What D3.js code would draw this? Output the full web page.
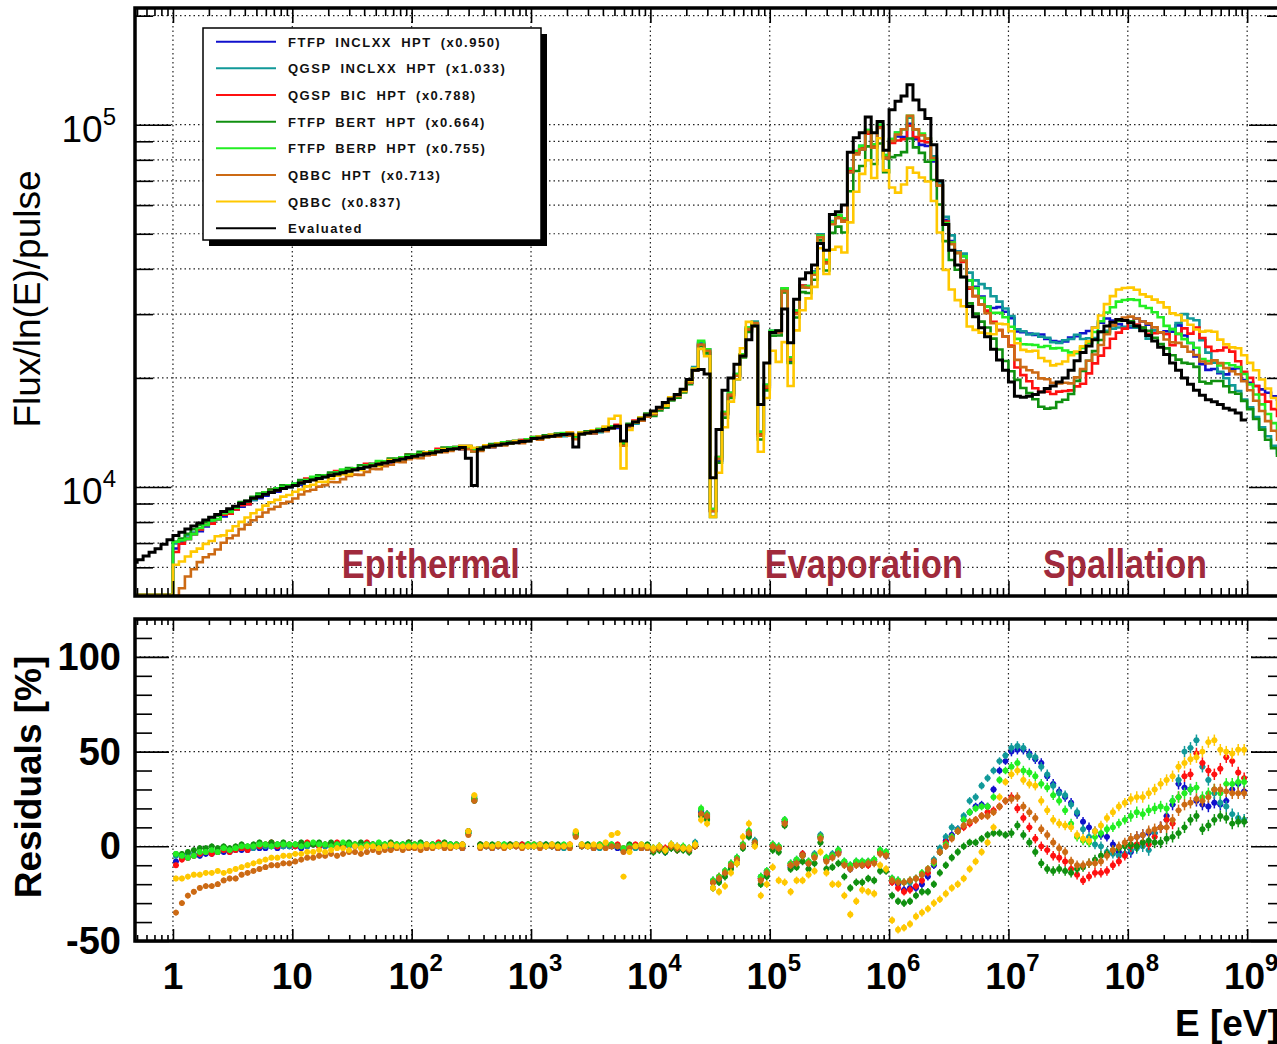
<!DOCTYPE html>
<html>
<head>
<meta charset="utf-8">
<script src="https://cdn.jsdelivr.net/npm/d3@7"></script>
<style>
  body { margin: 0; background: #fff; }
  svg text { font-family: "Liberation Sans", Arial, Helvetica, sans-serif; }
</style>
</head>
<body>
<div id="chart"></div>
<script>
// histogram binning in log10(E / eV)
const binWidth = 0.05;
const evalFirstEdge = -0.35;
const simFirstEdge = 0;
const tailFirstEdge = 9;

const modelNames = ["FTFP INCLXX HPT", "QGSP INCLXX HPT", "QGSP BIC HPT", "FTFP BERT HPT", "FTFP BERP HPT", "QBBC HPT", "QBBC"];
const modelScales = [0.950, 1.033, 0.788, 0.664, 0.755, 0.713, 0.837];
const modelColors = ["#1010cc", "#119999", "#ff1010", "#109010", "#22ee22", "#cc6a14", "#ffc800"];

const regionNames = ["Epithermal", "Evaporation", "Spallation"];
const regionStartE = [26, 9.1e4, 1.95e7];

// evaluated flux per bin, from 10^-0.35 eV to 1e9 eV
const evaluated = [
  6200, 6300, 6450, 6600, 6750, 6950, 7150,
  7350, 7500, 7650, 7800, 7950, 8100, 8250, 8400, 8550, 8700, 8850, 9000, 9150, 9300, 9400, 9550, 9650, 9800, 9900, 10000,
  10100, 10250, 10350, 10450, 10550, 10650, 10750, 10850, 10950, 11050, 11150, 11250, 11350, 11450, 11550, 11650, 11750, 11850, 11950, 12050,
  12150, 12250, 12350, 12400, 12500, 12600, 12700, 12750, 12850, 12000, 10100, 12700, 12900, 13000, 13050, 13150, 13200, 13250, 13350, 13400,
  13600, 13650, 13750, 13800, 13900, 13950, 14000, 12900, 14000, 14100, 14200, 14300, 14400, 14550, 14700, 13400, 14800, 15100, 15400, 15800,
  16200, 16600, 17100, 17500, 18000, 18600, 19800, 21000, 21100, 20500, 10600, 14400, 18500, 20000, 21800, 23000, 25500, 27800, 16900, 22000,
  26700, 27000, 31000, 25000, 33000, 37500, 39000, 41000, 47000, 45000, 56500, 57500, 60000, 84000, 92000, 95000, 105000, 95000, 102000, 85000,
  110000, 116000, 120000, 129000, 117000, 110000, 104000, 88000, 70000, 53000, 45000, 41000, 38000, 31500, 29500, 27500, 26000, 24000, 22400, 21000,
  19500, 17800, 17700, 17800, 18000, 18300, 18700, 19000, 19500, 20000, 21000, 22300, 23500, 24500, 25500, 26800, 27800, 28500, 29000, 28800,
  28400, 27800, 27000, 26200, 25300, 24300, 23200, 22000, 21000, 20000, 19200, 18500, 17900, 17400, 17200, 16900, 16500, 16300, 16000, 15300
];

// residuals (sim - evaluated) / evaluated in %, per bin from 1 eV to 1e9 eV
const resFtfpInclxx = [
  -8, -6, -6, -5, -5, -4, -4, -3, -3, -3, -2, -2, -2, -1, -1, -1, 0, -1, 0, 0,
  0, -1, 0, 1, 0, 0, 1, 0, 0, 1, 0, 0, 0, 1, 0, 0, -1, 0, 0, 0,
  0, 0, 1, 0, 0, 0, 1, 0, -1, 7, 25, 0, 0, -1, 0, 0, 0, 1, 0, 0,
  0, 1, 0, 0, -1, 0, 0, 6, 0, 0, -1, 0, 1, 0, -1, -2, -1, 0, -1, 0,
  -2, -1, -3, 0, -1, -1, -2, 1, 18, 17, -19, -18, -14, -10, -7, 0, 7, 2, -17, -14,
  0, -1, 13, -11, -8, -5, -9, -5, 5, -7, -5, -3, -9, -12, -9, -10, -9, -8, -3, -5,
  -18, -20, -23, -22, -22, -20, -16, -10, -3, 3, 6, 9, 14, 18, 21, 22, 21, 30, 40, 45,
  50, 51, 51, 49, 46, 44, 37, 33, 29, 26, 23, 17, 13, 10, 8, 6, 5, 1, -3, -4,
  -3, 5, 6, 7, 7, 10, 16, 22, 33, 31, 30, 24, 22, 21, 23, 22, 24, 30, 33, 29
];
const resQgspInclxx = [
  -5, -5, -4, -4, -4, -3, -3, -3, -2, -2, -2, -1, -1, -1, 0, 0, 0, 1, 0, 0,
  1, 0, 0, 1, 1, 0, 0, 1, 0, 0, 1, 0, 1, 0, 0, 1, 0, 0, 1, 0,
  0, 1, 0, 0, 1, 0, 0, 1, 0, 7, 26, 1, 0, 0, 0, 1, 0, 0, 1, 0,
  0, 0, 1, 0, 0, -1, 0, 7, 0, 1, 0, -1, 0, 1, 0, -2, 0, -1, 0, -1,
  -1, 0, -2, 1, 0, -1, -1, 2, 19, 16, -18, -17, -13, -9, -6, 1, 8, 3, -16, -13,
  1, 0, 14, -9, -7, -4, -8, -4, 6, -6, -4, -2, -8, -10, -8, -8, -8, -7, -2, -3,
  -17, -18, -19, -19, -17, -15, -14, -7, -1, 5, 10, 9, 16, 24, 26, 32, 36, 40, 45, 48,
  52, 53, 52, 48, 47, 42, 38, 32, 28, 27, 22, 18, 9, 5, 1, 0, -3, -4, -5, -4,
  -2, -1, 0, -2, 7, 10, 14, 24, 35, 50, 52, 56, 42, 35, 28, 23, 21, 17, 15, 14
];
const resQgspBic = [
  -10, -7, -6, -5, -4, -3, -4, -3, -2, -3, -2, -1, -2, 0, 0, 1, 2, 0, 1, 1,
  0, 1, 2, 1, 0, 1, 1, 2, 0, 1, 1, 0, 2, 1, 1, 0, 1, 1, 0, 2,
  1, 1, 0, 1, 2, 1, 0, 1, 1, 8, 25, 1, 1, 0, 1, 0, 1, 0, 1, 1,
  1, 0, 0, 1, 0, 0, 1, 6, 1, 0, 0, 1, 0, 0, 1, -1, 0, 1, 0, 0,
  -2, -1, -1, 0, -2, -1, -2, 0, 17, 15, -19, -16, -14, -11, -7, 1, 6, 1, -17, -15,
  0, -1, 13, -10, -8, -4, -9, -5, 5, -7, -5, -3, -9, -11, -9, -9, -10, -8, -3, -4,
  -19, -22, -24, -23, -21, -18, -14, -9, -3, 2, 5, 8, 10, 12, 14, 16, 18, 19, 21, 24,
  26, 20, 15, 10, 4, 0, -2, -5, -6, -8, -12, -15, -18, -16, -14, -14, -13, -10, -8, -5,
  0, 1, 2, 1, 5, 10, 14, 12, 26, 37, 38, 49, 44, 40, 38, 41, 47, 45, 39, 36
];
const resFtfpBert = [
  -4, -4, -3, -2, -1, -1, 0, -1, 0, -1, 0, 1, 0, 1, 2, 1, 2, 1, 2, 1,
  1, 2, 1, 1, 2, 1, 2, 1, 1, 2, 1, 2, 1, 1, 0, 1, 2, 1, 1, 2,
  1, 2, 1, 1, 1, 2, 1, 0, 1, 8, 24, 1, 0, 1, 1, 0, 1, 1, 0, 1,
  0, 1, 1, 0, 1, 0, 0, 7, 0, 1, 0, 0, 1, 0, 0, -2, 1, 0, 0, 1,
  -3, -2, -3, -1, -2, -2, -3, 0, 16, 14, -22, -19, -16, -12, -9, -1, 5, 1, -20, -16,
  -2, -3, 11, -12, -11, -8, -12, -9, 2, -12, -11, -9, -16, -22, -19, -19, -17, -18, -13, -13,
  -26, -29, -30, -29, -26, -24, -24, -20, -14, -10, -6, -3, 0, 2, 2, 4, 6, 7, 7, 6,
  7, 11, 6, 2, -3, -9, -12, -13, -12, -13, -14, -12, -11, -9, -7, -5, -4, -2, -1, 0,
  1, 0, 2, 3, 2, 2, 4, 5, 7, 10, 14, 16, 9, 11, 14, 16, 15, 12, 13, 13
];
const resFtfpBerp = [
  -4, -5, -6, -5, -3, -3, -2, -3, -1, -2, -1, 0, 0, 0, 1, 1, 0, 1, 1, 1,
  1, 0, 1, 2, 1, 1, 0, 1, 2, 1, 1, 0, 1, 1, 2, 1, 0, 1, 1, 1,
  1, 1, 0, 1, 1, 0, 1, 1, 0, 7, 25, 0, 1, 0, 1, 1, 0, 1, 0, 1,
  1, 0, 0, 1, 0, 1, 0, 6, 1, 0, 0, 1, 0, 1, 0, -1, 0, 0, 1, 0,
  -1, 0, -2, 1, -1, 0, -1, 1, 20, 17, -18, -16, -13, -9, -6, 1, 8, 2, -16, -13,
  1, 0, 14, -9, -7, -5, -8, -5, 5, -6, -5, -2, -8, -10, -8, -8, -8, -7, -2, -3,
  -17, -18, -19, -18, -17, -14, -12, -9, -3, 1, 5, 8, 14, 18, 20, 21, 21, 26, 35, 40,
  42, 44, 40, 39, 37, 33, 31, 27, 24, 19, 12, 5, 3, 2, 5, 7, 9, 10, 12, 14,
  16, 18, 17, 19, 20, 21, 20, 24, 26, 28, 30, 31, 26, 28, 30, 28, 33, 33, 34, 34
];
const resQbbcHpt = [
  -35, -30, -26, -24, -22, -21, -21, -20, -18, -17, -17, -15, -14, -13, -12, -11, -10, -10, -9, -9,
  -8, -7, -6, -6, -5, -5, -4, -5, -4, -3, -3, -4, -3, -2, -3, -2, -2, -1, -2, -1,
  -1, -2, -1, -1, 0, -1, -1, 0, -1, 6, 24, -1, 0, -1, 0, -1, 0, 0, -1, 0,
  0, -1, 0, 0, -1, 0, -1, 5, 0, 0, -1, 0, -1, 0, 0, -3, -1, 0, -1, -1,
  -2, -1, -2, 0, -1, -1, -2, 0, 17, 16, -19, -17, -14, -10, -7, 0, 7, 2, -18, -14,
  0, -1, 12, -10, -9, -5, -9, -6, 4, -8, -6, -4, -10, -12, -10, -10, -9, -9, -4, -5,
  -18, -19, -19, -18, -17, -15, -12, -8, -3, 0, 4, 8, 11, 13, 14, 16, 16, 18, 21, 24,
  25, 26, 21, 18, 15, 9, 6, 2, -1, -3, -8, -10, -10, -9, -9, -8, -5, -2, 0, 2,
  4, 5, 6, 8, 9, 10, 10, 14, 19, 22, 23, 25, 24, 26, 30, 30, 29, 28, 28, 28
];
const resQbbc = [
  -17, -17, -16, -15, -15, -14, -14, -13, -14, -13, -12, -11, -10, -9, -8, -7, -6, -6, -5, -5,
  -4, -4, -3, -3, -2, -3, -2, -1, -1, -2, 0, -1, 0, 0, -1, 0, 1, 0, 0, 0,
  0, 0, 1, 0, 0, 1, 0, 0, 1, 8, 27, 0, 1, 0, 1, 0, 0, 1, 0, 0,
  0, 1, 0, 1, 0, 0, 1, 8, 1, 0, 1, 0, 2, 6, 7, -16, -3, 0, 1, 0,
  -1, 0, -2, 1, 0, -1, -1, 1, 14, 12, -22, -24, -21, -14, -9, 5, 12, 0, -26, -20,
  -11, -18, -19, -24, -18, -18, -15, -13, -3, -14, -20, -20, -26, -36, -29, -23, -24, -25, -10, -12,
  -39, -44, -43, -41, -37, -35, -33, -30, -28, -25, -22, -20, -17, -12, -8, -3, 2, 10, 26, 34,
  38, 40, 35, 33, 32, 24, 19, 14, 12, 11, 10, 6, 4, 3, 8, 11, 15, 18, 21, 23,
  25, 26, 26, 28, 30, 33, 35, 37, 42, 44, 46, 47, 50, 55, 56, 51, 50, 49, 51, 51
];
const residuals = [resFtfpInclxx, resQgspInclxx, resQgspBic, resFtfpBert, resFtfpBerp, resQbbcHpt, resQbbc];

// residual error (%) per decade, 1 eV .. 1e9 eV
const resErrorByDecade = [1.5, 1.5, 1.5, 1.5, 2, 2, 2, 2.5, 3];

// simulated flux above 1e9 eV (no evaluated data there)
const tailFlux = [
  [19400, 19000, 18600, 18200, 17800, 17400, 17000],
  [16600, 15600, 14600, 13800, 13000, 12400, 11800],
  [20000, 19000, 18000, 17200, 16400, 15700, 15000],
  [16400, 15400, 14400, 13500, 12800, 12200, 11600],
  [19200, 18000, 16900, 15900, 15000, 14200, 13500],
  [18500, 17300, 16200, 15200, 14300, 13500, 12800],
  [22000, 21000, 19800, 18700, 17600, 16600, 15700]
];

const xMajor = [1, 10, 100, 1e3, 1e4, 1e5, 1e6, 1e7, 1e8, 1e9];
const xMajorLabels = [["1", ""], ["10", ""], ["10", "2"], ["10", "3"], ["10", "4"], ["10", "5"], ["10", "6"], ["10", "7"], ["10", "8"], ["10", "9"]];
const fluxMajor = [1e4, 1e5];
const fluxMajorLabels = ["4", "5"];
const resMajor = [-50, 0, 50, 100];

// ---- layout
const W = 1277, H = 1044;
const L = 135, R = 1285;
const topY0 = 8, topY1 = 596;
const botY0 = 619, botY1 = 941;

const svg = d3.select("#chart").append("svg")
  .attr("width", W).attr("height", H)
  .attr("viewBox", `0 0 ${W} ${H}`);

const x = d3.scaleLog().domain([Math.pow(10, -0.318), Math.pow(10, 9.317)]).range([L, R]);
const yTop = d3.scaleLog().domain([5000, 2.1e5]).range([topY1, topY0]).clamp(true);
const yRes = d3.scaleLinear().domain([-50, 120]).range([botY1, botY0]);

const xMinor = [];
for (let k = -1; k <= 9; k++) {
  for (let m = 2; m <= 9; m++) {
    const v = m * Math.pow(10, k);
    if (v > x.domain()[0] && v < x.domain()[1]) xMinor.push(v);
  }
}
const fluxMinor = [6000, 7000, 8000, 9000, 20000, 30000, 40000, 50000, 60000, 70000, 80000, 90000, 200000];
const resMinor = d3.range(-40, 121, 10).filter(v => resMajor.indexOf(v) < 0);

const defs = svg.append("defs");
defs.append("clipPath").attr("id", "clipTop").append("rect")
  .attr("x", L).attr("y", topY0).attr("width", R - L).attr("height", topY1 - topY0);
defs.append("clipPath").attr("id", "clipBot").append("rect")
  .attr("x", L).attr("y", botY0).attr("width", R - L).attr("height", botY1 - botY0);

// ---- grids
const gridStyle = sel => sel.attr("stroke", "#222").attr("stroke-width", 1.2).attr("stroke-dasharray", "1.5,3");

svg.append("g").selectAll("line").data(xMajor).join("line")
  .attr("x1", d => x(d)).attr("x2", d => x(d)).attr("y1", topY0).attr("y2", topY1).call(gridStyle);
svg.append("g").selectAll("line").data(fluxMajor.concat(fluxMinor)).join("line")
  .attr("x1", L).attr("x2", R).attr("y1", d => yTop(d)).attr("y2", d => yTop(d)).call(gridStyle);
svg.append("g").selectAll("line").data(xMajor).join("line")
  .attr("x1", d => x(d)).attr("x2", d => x(d)).attr("y1", botY0).attr("y2", botY1).call(gridStyle);
svg.append("g").selectAll("line").data([0, 50, 100]).join("line")
  .attr("x1", L).attr("x2", R).attr("y1", d => yRes(d)).attr("y2", d => yRes(d)).call(gridStyle);

// ---- top panel: step histograms
const stepLine = d3.line()
  .x(d => x(d.e))
  .y(d => d.v > 0 ? yTop(d.v) : topY1 - 1)
  .curve(d3.curveStepAfter);

const toPoints = (vals, firstEdge) => {
  const pts = vals.map((v, i) => ({ e: Math.pow(10, firstEdge + i * binWidth), v: v }));
  pts.push({ e: Math.pow(10, firstEdge + vals.length * binWidth), v: vals[vals.length - 1] });
  return pts;
};

const evalOffset = Math.round((simFirstEdge - evalFirstEdge) / binWidth);

const topG = svg.append("g").attr("clip-path", "url(#clipTop)");

residuals.forEach((res, m) => {
  const simVals = res.map((r, i) => evaluated[i + evalOffset] * (1 + r / 100)).concat(tailFlux[m]);
  const pts = [{ e: Math.pow(10, evalFirstEdge), v: 0 }].concat(toPoints(simVals, simFirstEdge));
  topG.append("path")
    .attr("d", stepLine(pts))
    .attr("fill", "none")
    .attr("stroke", modelColors[m])
    .attr("stroke-width", 2.6);
});

topG.append("path")
  .attr("d", stepLine(toPoints(evaluated, evalFirstEdge)))
  .attr("fill", "none")
  .attr("stroke", "#000")
  .attr("stroke-width", 3);

// region labels
svg.append("g").selectAll("text").data(regionNames).join("text")
  .attr("x", (d, i) => x(regionStartE[i]))
  .attr("y", 578)
  .attr("font-size", 41)
  .attr("font-weight", "bold")
  .attr("fill", "#a02a3c")
  .attr("textLength", (d, i) => [178, 198, 164][i])
  .attr("lengthAdjust", "spacingAndGlyphs")
  .text(d => d);

// ---- bottom panel: residual points
const botG = svg.append("g").attr("clip-path", "url(#clipBot)");
residuals.forEach((res, m) => {
  const pts = res.map((r, i) => ({
    lo: Math.pow(10, simFirstEdge + i * binWidth),
    hi: Math.pow(10, simFirstEdge + (i + 1) * binWidth),
    c: Math.pow(10, simFirstEdge + (i + 0.5) * binWidth),
    r: r,
    err: resErrorByDecade[Math.floor(i * binWidth)]
  }));
  const g = botG.append("g").attr("stroke", modelColors[m]).attr("fill", modelColors[m]);
  g.selectAll("line.v").data(pts).join("line").attr("class", "v")
    .attr("x1", d => x(d.c)).attr("x2", d => x(d.c))
    .attr("y1", d => yRes(d.r - d.err)).attr("y2", d => yRes(d.r + d.err))
    .attr("stroke-width", 1.5);
  g.selectAll("line.h").data(pts).join("line").attr("class", "h")
    .attr("x1", d => x(d.lo)).attr("x2", d => x(d.hi))
    .attr("y1", d => yRes(d.r)).attr("y2", d => yRes(d.r))
    .attr("stroke-width", 1.5);
  g.selectAll("circle").data(pts).join("circle")
    .attr("cx", d => x(d.c)).attr("cy", d => yRes(d.r)).attr("r", 2.9)
    .attr("stroke", "none");
});

// ---- ticks (inside the frames, ROOT style)
const addTicks = (axis, values, size, tx, ty) => {
  svg.append("g")
    .attr("transform", `translate(${tx},${ty})`)
    .call(axis.tickValues(values).tickSize(size).tickFormat(""))
    .call(g => g.select(".domain").remove())
    .call(g => g.selectAll("line").attr("stroke", "#000").attr("stroke-width", 1.6));
};

addTicks(d3.axisTop(x), xMajor, 15, 0, topY1);
addTicks(d3.axisTop(x), xMinor, 8, 0, topY1);
addTicks(d3.axisBottom(x), xMajor, 15, 0, topY0);
addTicks(d3.axisBottom(x), xMinor, 8, 0, topY0);
addTicks(d3.axisRight(yTop), fluxMajor, 36, L, 0);
addTicks(d3.axisRight(yTop), fluxMinor, 18, L, 0);
addTicks(d3.axisLeft(yTop), fluxMajor, 36, R, 0);
addTicks(d3.axisLeft(yTop), fluxMinor, 18, R, 0);

addTicks(d3.axisTop(x), xMajor, 12, 0, botY1);
addTicks(d3.axisTop(x), xMinor, 6, 0, botY1);
addTicks(d3.axisBottom(x), xMajor, 12, 0, botY0);
addTicks(d3.axisBottom(x), xMinor, 6, 0, botY0);
addTicks(d3.axisRight(yRes), resMajor, 34, L, 0);
addTicks(d3.axisRight(yRes), resMinor, 17, L, 0);
addTicks(d3.axisLeft(yRes), resMajor, 34, R, 0);
addTicks(d3.axisLeft(yRes), resMinor, 17, R, 0);

// ---- frames
[[topY0, topY1], [botY0, botY1]].forEach(([a, b]) => {
  svg.append("rect")
    .attr("x", L).attr("y", a).attr("width", R - L).attr("height", b - a)
    .attr("fill", "none").attr("stroke", "#000").attr("stroke-width", 3.5);
});

// ---- tick labels
const fluxLab = svg.append("g").selectAll("text").data(fluxMajor).join("text")
  .attr("x", 116).attr("y", d => yTop(d) + 17)
  .attr("text-anchor", "end")
  .attr("font-size", 37);
fluxLab.append("tspan").text("10");
fluxLab.append("tspan").attr("font-size", 24).attr("dy", -17).text((d, i) => fluxMajorLabels[i]);

const xLab = svg.append("g").selectAll("text").data(xMajor).join("text")
  .attr("x", (d, i) => x(d) + (i > 1 ? 4 : 0)).attr("y", 989)
  .attr("text-anchor", "middle")
  .attr("font-size", 37).attr("font-weight", "bold");
xLab.append("tspan").text((d, i) => xMajorLabels[i][0]);
xLab.append("tspan").attr("font-size", 24).attr("dy", -18).text((d, i) => xMajorLabels[i][1]);

svg.append("g").selectAll("text").data(resMajor).join("text")
  .attr("x", 121).attr("y", d => yRes(d) + 13)
  .attr("text-anchor", "end")
  .attr("font-size", 38).attr("font-weight", "bold")
  .text(d => d);

// ---- axis titles
svg.append("text")
  .attr("transform", "translate(40,299) rotate(-90)")
  .attr("text-anchor", "middle")
  .attr("font-size", 37)
  .text("Flux/ln(E)/pulse");

svg.append("text")
  .attr("transform", "translate(41,777) rotate(-90)")
  .attr("text-anchor", "middle")
  .attr("font-size", 37).attr("font-weight", "bold")
  .text("Residuals [%]");

// the reference crops this title at the right edge of the canvas
svg.append("text")
  .attr("x", 1175).attr("y", 1036)
  .attr("font-size", 37).attr("font-weight", "bold")
  .text("E [eV]");

// ---- legend
const legX = 203, legY = 28, legW = 338, legH = 212;
svg.append("rect").attr("x", legX + 6).attr("y", legY + 6).attr("width", legW).attr("height", legH).attr("fill", "#000");
svg.append("rect").attr("x", legX).attr("y", legY).attr("width", legW).attr("height", legH)
  .attr("fill", "#fff").attr("stroke", "#000").attr("stroke-width", 1.5);

const legendItems = modelNames.map((n, i) => ({ label: `${n} (x${modelScales[i].toFixed(3)})`, color: modelColors[i] }))
  .concat([{ label: "Evaluated", color: "#000" }]);

const leg = svg.append("g").selectAll("g").data(legendItems).join("g")
  .attr("transform", (d, i) => `translate(0,${41.7 + i * 26.65})`);
leg.append("line").attr("x1", 216).attr("x2", 276).attr("stroke", d => d.color).attr("stroke-width", 2);
leg.append("text").attr("x", 288).attr("y", 5)
  .attr("font-size", 13).attr("font-weight", "bold").attr("fill", "#111")
  .attr("letter-spacing", 1.5).attr("word-spacing", 4)
  .text(d => d.label);
</script>
</body>
</html>
